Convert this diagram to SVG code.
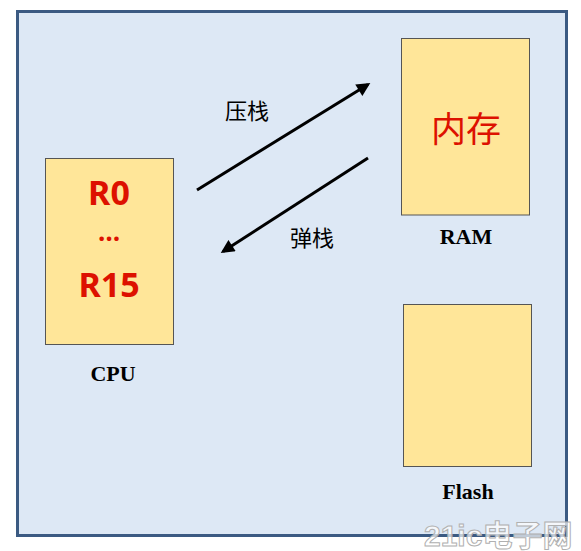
<svg xmlns="http://www.w3.org/2000/svg" width="581" height="551" viewBox="0 0 581 551">
<defs>
<style>
.frame{fill:#dde8f5;stroke:#3b5a82;stroke-width:3}
.box{fill:#ffe699;stroke:#555555;stroke-width:1}
.reg{font-family:"Noto Sans","Liberation Sans",sans-serif;font-weight:bold;fill:#dd1100;text-anchor:middle}
.cn{font-family:"Noto Sans CJK SC",sans-serif;text-anchor:middle}
.lbl{font-family:"Liberation Serif",serif;font-weight:bold;font-size:22px;fill:#000;text-anchor:middle}
.conn{stroke:#000;stroke-width:3;fill:none;marker-end:url(#ah)}
.wm{font-family:"Liberation Sans","Noto Sans CJK SC",sans-serif;font-weight:bold;fill:#ffffff;fill-opacity:0.7;stroke:#b0b0b0;stroke-width:1}
</style>
<marker id="ah" viewBox="0 0 10 10" refX="8" refY="5" markerWidth="5" markerHeight="4.5" orient="auto" markerUnits="strokeWidth">
<path d="M0,0 L10,5 L0,10 Z" fill="#000"/>
</marker>
</defs>
<rect width="581" height="551" fill="#ffffff"/>
<rect class="frame" x="17.5" y="11.5" width="549" height="524"/>
<g id="cpu">
<rect class="box" x="45.5" y="158.5" width="128" height="186"/>
<text class="reg" x="109" y="205" font-size="34">R0</text>
<text class="reg" x="109" y="241" font-size="26">…</text>
<text class="reg" x="109" y="297" font-size="34">R15</text>
<text class="lbl" x="113" y="381">CPU</text>
</g>
<g id="ram">
<rect class="box" x="401.5" y="38.5" width="128" height="176.5"/>
<text class="cn" x="466" y="142" font-size="35" fill="#dd1100">内存</text>
<text class="lbl" x="466" y="244">RAM</text>
</g>
<g id="flash">
<rect class="box" x="403.5" y="304.5" width="128" height="162"/>
<text class="lbl" x="468" y="499">Flash</text>
</g>
<g id="connectors">
<line class="conn" x1="197" y1="190" x2="368" y2="84.5"/>
<text class="cn" x="247" y="119" font-size="22" fill="#000">压栈</text>
<line class="conn" x1="368" y1="158" x2="223" y2="251.5"/>
<text class="cn" x="312" y="246" font-size="22" fill="#000">弹栈</text>
</g>
<text class="wm" x="424" y="546" font-size="30">21ic电子网</text>
</svg>
